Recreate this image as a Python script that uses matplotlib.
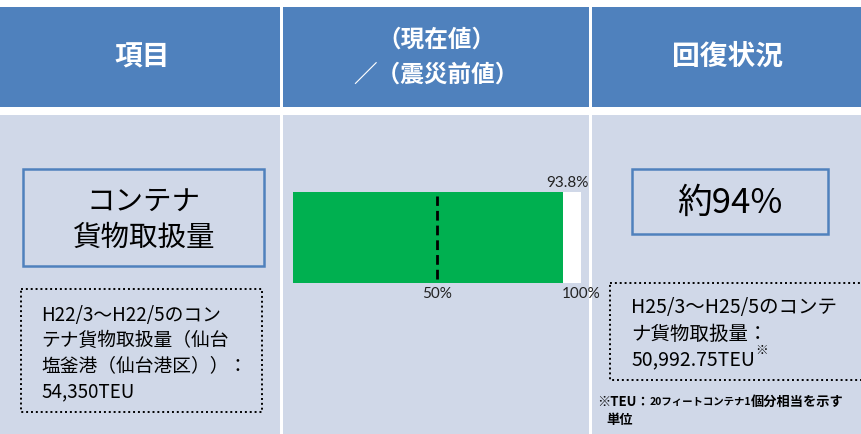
import matplotlib.pyplot as plt
from matplotlib.patches import Rectangle

plt.rcParams['font.family'] = ['Noto Sans CJK JP', 'DejaVu Sans']

# values
headers = ['項目', '（現在値）\n／（震災前値）', '回復状況']
item_name = ['コンテナ', '貨物取扱量']
before_note = ['H22/3～H22/5のコン', 'テナ貨物取扱量（仙台', '塩釜港（仙台港区））：', '54,350TEU']
after_note = ['H25/3～H25/5のコンテ', 'ナ貨物取扱量：', '50,992.75TEU']
footnote = [('※TEU：', 9.5), ('20フィートコンテナ1', 7.5), ('個分相当を示す', 9.5)]
footnote2 = '単位'
recovery = 93.8          # % of pre-disaster value
marks = [50, 100]
summary = '約94%'

HEAD = '#4F81BD'
BODY = '#D0D8E8'
GREEN = '#00B050'

W, H = 861, 434
fig = plt.figure(figsize=(W / 100, H / 100), dpi=100)
fig.patch.set_facecolor('white')
ax = fig.add_axes([0, 0, 1, 1])
ax.set_xlim(0, W)
ax.set_ylim(H, 0)
ax.axis('off')

cols = [(0, 280), (283, 589), (592, 861)]
for (x0, x1), head in zip(cols, headers):
    ax.add_patch(Rectangle((x0, 7), x1 - x0, 100, color=HEAD, lw=0))
    ax.add_patch(Rectangle((x0, 115), x1 - x0, H - 115, color=BODY, lw=0))

# header texts
ax.text(142, 57, headers[0], color='white', fontsize=20, fontweight='bold',
        ha='center', va='center')
mid = headers[1].split('\n')
ax.text(436, 40, mid[0], color='white', fontsize=17, fontweight='bold',
        ha='center', va='center')
ax.text(436, 75, mid[1], color='white', fontsize=17, fontweight='bold',
        ha='center', va='center')
ax.text(727, 57, headers[2], color='white', fontsize=20, fontweight='bold',
        ha='center', va='center')

# left column
ax.add_patch(Rectangle((23, 169), 241, 97, fill=False, ec=HEAD, lw=1.8))
ax.text(143, 202, item_name[0], fontsize=20.5, ha='center', va='center')
ax.text(143, 238, item_name[1], fontsize=20.5, ha='center', va='center')
ax.add_patch(Rectangle((21, 289), 241, 123, fill=False, ec='black', lw=1.4,
                       ls=(0, (1, 1.5))))
for i, line in enumerate(before_note):
    ax.text(41, 315 + i * 25.5, line, fontsize=13.5, ha='left', va='center')

# right column
ax.add_patch(Rectangle((632, 169), 196, 65, fill=False, ec=HEAD, lw=1.8))
ax.text(730, 203, summary, fontsize=25, ha='center', va='center')
ax.add_patch(Rectangle((610, 283), 260, 97, fill=False, ec='black', lw=1.4,
                       ls=(0, (1, 1.5))))
last = None
for i, line in enumerate(after_note):
    last = ax.text(631, 308 + i * 26, line, fontsize=14, ha='left', va='center')

fig.canvas.draw()
r = fig.canvas.get_renderer()
ext = last.get_window_extent(r)
ax.text(ext.x1 + 0.5, 350, '※', fontsize=9, ha='left', va='center')

# footnote built from pieces so the middle run looks condensed
x = 597
for txt, fs in footnote:
    t = ax.text(x, 402, txt, fontsize=fs, fontweight='bold', ha='left', va='center')
    e = t.get_window_extent(r)
    x += e.width
ax.text(606, 420, footnote2, fontsize=9.5, fontweight='bold', ha='left', va='center')

# bar
bx = fig.add_axes([293 / W, 1 - 283 / H, (581 - 293) / W, (283 - 192) / H])
bx.set_facecolor('white')
bx.barh(0, recovery, height=1, color=GREEN)
bx.set_xlim(0, 100)
bx.set_ylim(-0.5, 0.5)
bx.axvline(marks[0], ymin=0.04, ymax=0.96, color='black', lw=2, ls=(0, (3.5, 1.8)))
for s in bx.spines.values():
    s.set_visible(False)
bx.set_yticks([])
bx.set_xticks(marks)
bx.set_xticklabels([f'{m}%' for m in marks], family='Lato', fontsize=11, color='#222222')
bx.tick_params(axis='x', length=0, pad=3)
bx.text(recovery + 1.5, 0.52, f'{recovery}%', family='Lato', fontsize=11, color='#222222',
        ha='center', va='bottom')

fig.savefig('out.png', dpi=100)
